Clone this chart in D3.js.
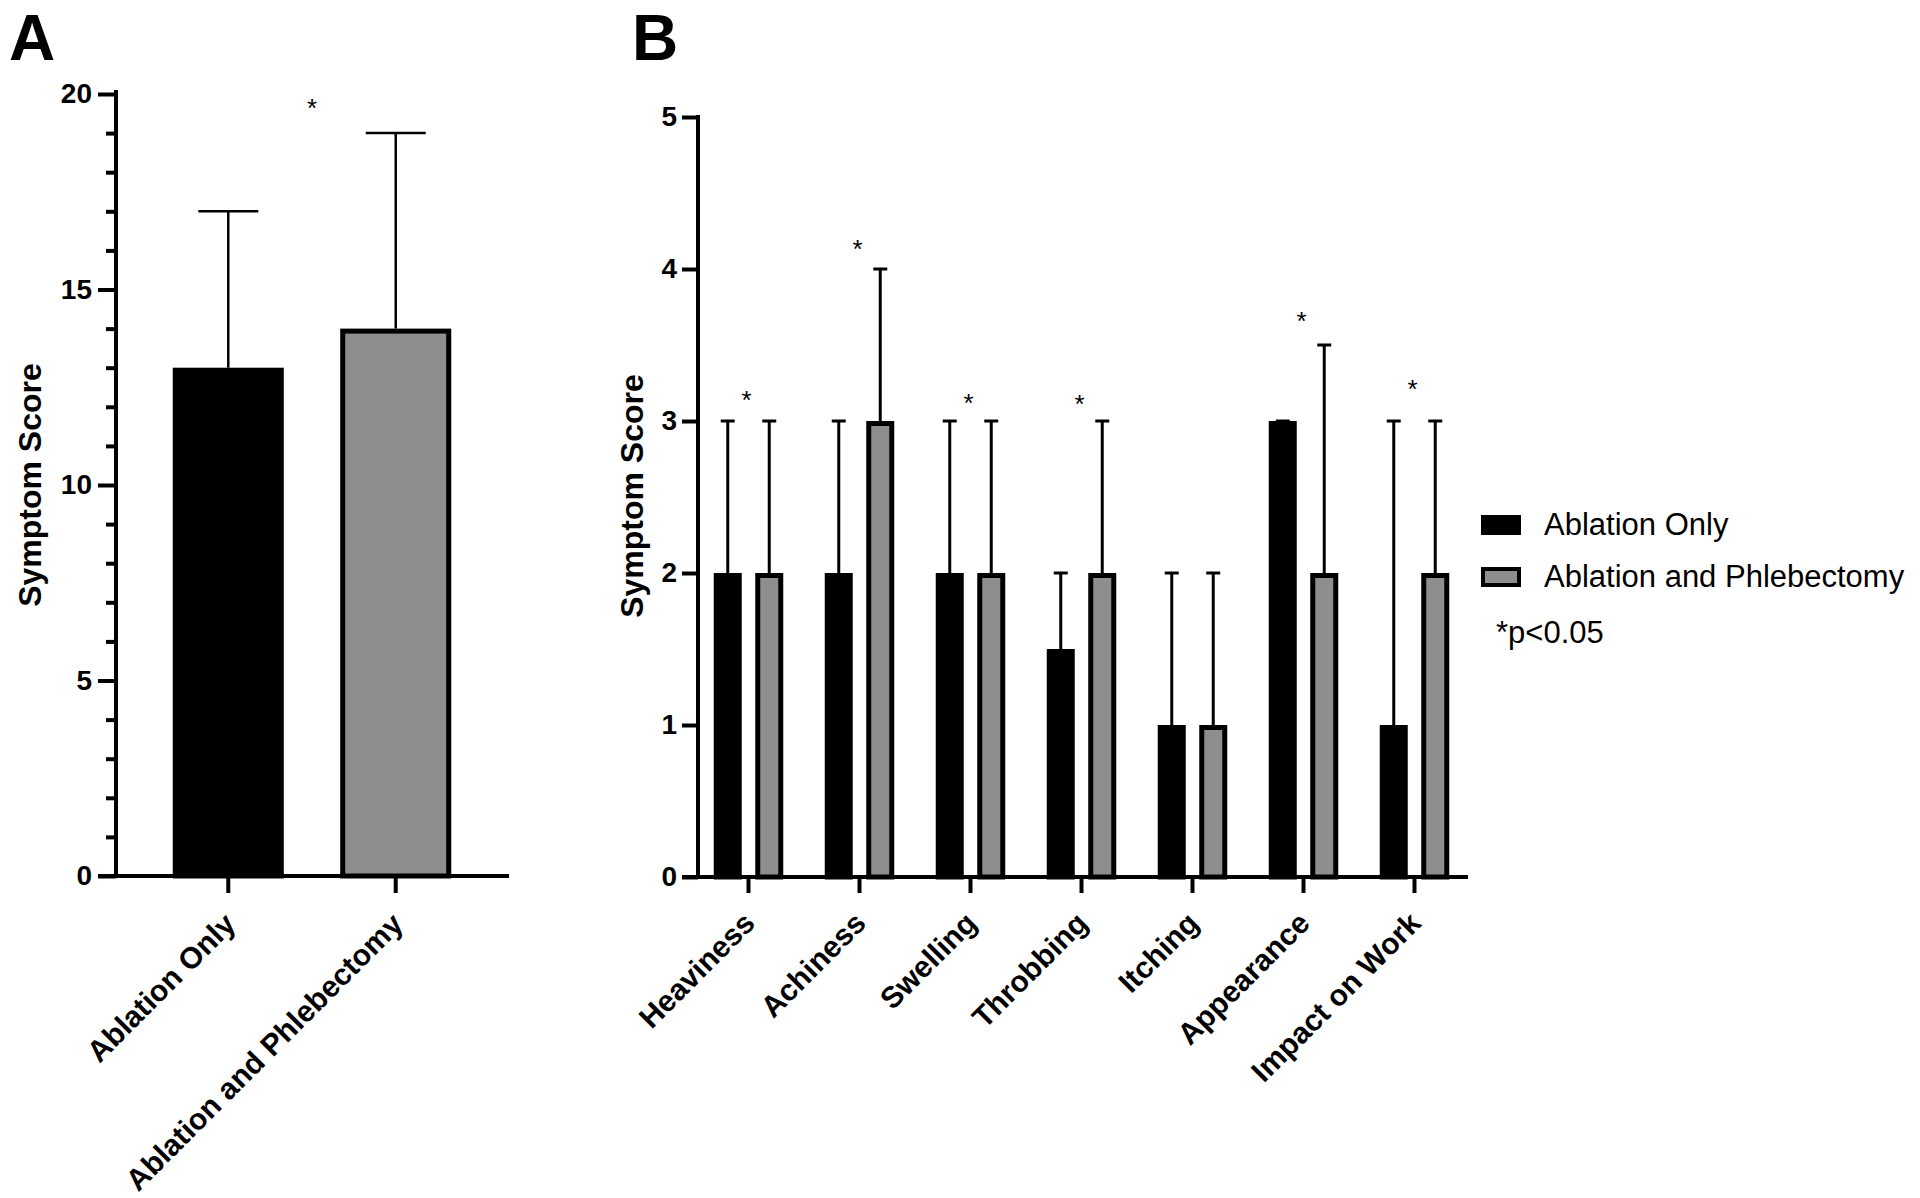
<!DOCTYPE html>
<html>
<head>
<meta charset="utf-8">
<script src="https://cdn.jsdelivr.net/npm/d3@7"></script>
<style>
  html, body { margin: 0; padding: 0; background: #fff; }
  svg { display: block; }
  text { font-family: "Liberation Sans", Arial, Helvetica, sans-serif; fill: #000; }
</style>
</head>
<body>
<svg id="chart" width="1920" height="1198"></svg>
<script>
// ---------------- DATA ----------------
// Panel A
const catsA = ["Ablation Only", "Ablation and Phlebectomy"];
const valuesA = [13, 14];
const errTopA = [17, 19];
const starA = 19.8;              // asterisk height (score units), between the two bars
const ticksA = [0, 5, 10, 15, 20];
const minorTicksA = [1,2,3,4,6,7,8,9,11,12,13,14,16,17,18,19];

// Panel B
const catsB = ["Heaviness", "Achiness", "Swelling", "Throbbing", "Itching", "Appearance", "Impact on Work"];
const seriesB = ["Ablation Only", "Ablation and Phlebectomy"];
const ablationOnly = [2, 2, 2, 1.5, 1, 3, 1];
const ablationOnlyErr = [3, 3, 3, 2, 2, 3, 3];
const ablationPhleb = [2, 3, 2, 2, 1, 2, 2];
const ablationPhlebErr = [3, 4, 3, 3, 2, 3.5, 3];
const starB = [3.18, 4.17, 3.16, 3.15, null, 3.70, 3.25];
const ticksB = [0, 1, 2, 3, 4, 5];
const noteB = "*p<0.05";

// ---------------- STYLE ----------------
const BLACK = "#000";
const GRAY = "#8e8e8e";
const svg = d3.select("#chart");
const FONT_BOLD = 30;
const FONT_YLAB = 32;

function styleAxis(g, width) {
  g.attr("font-size", 28).attr("font-family", null);
  g.selectAll("line").attr("stroke", BLACK).attr("stroke-width", width);
  g.selectAll("path.domain").remove();
  g.selectAll("text").attr("font-weight", "bold").attr("font-size", 28).attr("fill", BLACK);
}

// ================= PANEL A =================
(function panelA() {
  const y = d3.scaleLinear().domain([0, 20]).range([876, 94]);
  const x = d3.scaleBand().domain(catsA).range([116, 508]).paddingInner(0.337).paddingOuter(0.339);

  svg.append("text").attr("x", 9).attr("y", 60).attr("font-size", 64).attr("font-weight", "bold").text("A");

  const sw = 5;
  const g = svg.append("g");
  catsA.forEach((c, i) => {
    g.append("rect")
      .attr("x", x(c) + sw / 2).attr("width", x.bandwidth() - sw)
      .attr("y", y(valuesA[i]) + sw / 2).attr("height", y(0) - y(valuesA[i]) - sw / 2)
      .attr("fill", i === 0 ? BLACK : GRAY)
      .attr("stroke", BLACK).attr("stroke-width", sw);
    const cx = x(c) + x.bandwidth() / 2;
    g.append("line").attr("x1", cx).attr("x2", cx).attr("y1", y(valuesA[i])).attr("y2", y(errTopA[i]))
      .attr("stroke", BLACK).attr("stroke-width", 2.5);
    g.append("line").attr("x1", cx - 30).attr("x2", cx + 30).attr("y1", y(errTopA[i])).attr("y2", y(errTopA[i]))
      .attr("stroke", BLACK).attr("stroke-width", 2.5);
  });

  const midX = (x(catsA[0]) + x(catsA[1]) + x.bandwidth()) / 2;
  svg.append("text").attr("x", midX).attr("y", y(starA) + 15).attr("text-anchor", "middle")
    .attr("font-size", 26).text("*");

  const ya = svg.append("g").attr("transform", "translate(116,0)")
    .call(d3.axisLeft(y).tickValues(ticksA).tickSize(18).tickPadding(6).tickSizeOuter(0).tickFormat(d3.format("d")));
  styleAxis(ya, 4);
  const ym = svg.append("g").attr("transform", "translate(116,0)")
    .call(d3.axisLeft(y).tickValues(minorTicksA).tickSize(10).tickFormat(""));
  styleAxis(ym, 4);
  svg.append("line").attr("x1", 116).attr("x2", 116).attr("y1", y(20) - 4).attr("y2", y(0))
    .attr("stroke", BLACK).attr("stroke-width", 4);

  const xa = svg.append("g").attr("transform", `translate(0,${y(0)})`)
    .call(d3.axisBottom(x).tickSize(17).tickFormat(""));
  styleAxis(xa, 4);
  svg.append("line").attr("x1", 98).attr("x2", 509).attr("y1", y(0)).attr("y2", y(0))
    .attr("stroke", BLACK).attr("stroke-width", 4);
  catsA.forEach(c => {
    const cx = x(c) + x.bandwidth() / 2;
    svg.append("text")
      .attr("transform", `translate(${cx + 9},${y(0) + 50}) rotate(-45)`)
      .attr("text-anchor", "end").attr("font-weight", "bold").attr("font-size", FONT_BOLD).text(c);
  });

  svg.append("text").attr("transform", `translate(41,485) rotate(-90)`)
    .attr("text-anchor", "middle").attr("font-weight", "bold").attr("font-size", FONT_YLAB)
    .text("Symptom Score");
})();

// ================= PANEL B =================
(function panelB() {
  const y = d3.scaleLinear().domain([0, 5]).range([877, 117]);
  const x0 = d3.scaleBand().domain(catsB).range([693, 1470]).padding(0);
  const x1 = d3.scaleBand().domain(seriesB).range([0, x0.bandwidth()]).paddingInner(0.325).paddingOuter(0.5);

  svg.append("text").attr("x", 632).attr("y", 60).attr("font-size", 64).attr("font-weight", "bold").text("B");

  const vals = [ablationOnly, ablationPhleb];
  const errs = [ablationOnlyErr, ablationPhlebErr];
  const sw = 5;
  const g = svg.append("g");
  catsB.forEach((c, i) => {
    seriesB.forEach((s, k) => {
      const v = vals[k][i];
      const bx = x0(c) + x1(s);
      const cx = bx + x1.bandwidth() / 2;
      const e = errs[k][i];
      g.append("line").attr("x1", cx).attr("x2", cx).attr("y1", y(v)).attr("y2", y(e))
        .attr("stroke", BLACK).attr("stroke-width", 3);
      g.append("line").attr("x1", cx - 7).attr("x2", cx + 7).attr("y1", y(e)).attr("y2", y(e))
        .attr("stroke", BLACK).attr("stroke-width", 3);
      g.append("rect")
        .attr("x", bx + sw / 2).attr("width", x1.bandwidth() - sw)
        .attr("y", y(v) + sw / 2).attr("height", y(0) - y(v) - sw / 2)
        .attr("fill", k === 0 ? BLACK : GRAY)
        .attr("stroke", BLACK).attr("stroke-width", sw);
    });
    if (starB[i] != null) {
      svg.append("text").attr("x", x0(c) + x0.bandwidth() / 2 - 2).attr("y", y(starB[i]) + 15)
        .attr("text-anchor", "middle").attr("font-size", 26).text("*");
    }
  });

  const ya = svg.append("g").attr("transform", "translate(698,0)")
    .call(d3.axisLeft(y).tickValues(ticksB).tickSize(16).tickPadding(5).tickSizeOuter(0).tickFormat(d3.format("d")));
  styleAxis(ya, 4);
  svg.append("line").attr("x1", 698).attr("x2", 698).attr("y1", y(5) - 2).attr("y2", y(0))
    .attr("stroke", BLACK).attr("stroke-width", 4);

  const xa = svg.append("g").attr("transform", `translate(0,${y(0)})`)
    .call(d3.axisBottom(x0).tickSize(16).tickFormat(""));
  styleAxis(xa, 4);
  svg.append("line").attr("x1", 682).attr("x2", 1468).attr("y1", y(0)).attr("y2", y(0))
    .attr("stroke", BLACK).attr("stroke-width", 4);
  catsB.forEach(c => {
    const cx = x0(c) + x0.bandwidth() / 2;
    svg.append("text")
      .attr("transform", `translate(${cx + 8},${y(0) + 48}) rotate(-45)`)
      .attr("text-anchor", "end").attr("font-weight", "bold").attr("font-size", FONT_BOLD).text(c);
  });

  svg.append("text").attr("transform", `translate(643,496) rotate(-90)`)
    .attr("text-anchor", "middle").attr("font-weight", "bold").attr("font-size", FONT_YLAB)
    .text("Symptom Score");

  const lg = svg.append("g");
  seriesB.forEach((s, k) => {
    const ly = 515 + k * 52;
    lg.append("rect").attr("x", 1483).attr("y", ly + 2).attr("width", 36).attr("height", 16)
      .attr("fill", k === 0 ? BLACK : GRAY).attr("stroke", BLACK).attr("stroke-width", 4);
    lg.append("text").attr("x", 1544).attr("y", ly + 20).attr("font-size", 31).text(s);
  });
  lg.append("text").attr("x", 1496).attr("y", 643).attr("font-size", 31).text(noteB);
})();
</script>
</body>
</html>
